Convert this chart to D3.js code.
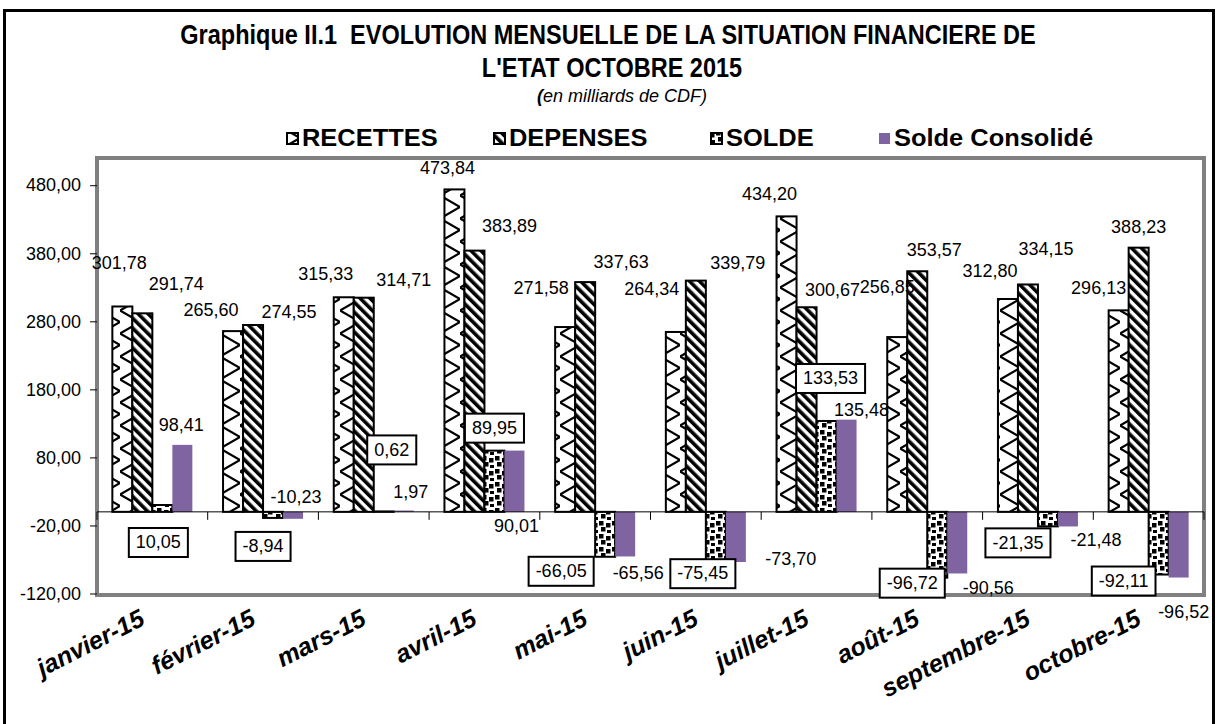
<!DOCTYPE html>
<html>
<head>
<meta charset="utf-8">
<script src="https://cdn.jsdelivr.net/npm/d3@7/dist/d3.min.js"></script>
<style>
  body { margin: 0; background: #fff; }
  svg { display: block; }
  text { font-family: "Liberation Sans", Arial, sans-serif; fill: #000; }
</style>
</head>
<body>
<svg id="chart" width="1219" height="724"></svg>
<script>
// data (milliards de CDF)
var months = ['janvier-15', 'février-15', 'mars-15', 'avril-15', 'mai-15',
              'juin-15', 'juillet-15', 'août-15', 'septembre-15', 'octobre-15'];
var seriesNames = ['RECETTES', 'DEPENSES', 'SOLDE', 'Solde Consolidé'];
var recettes  = [301.78, 265.60, 315.33, 473.84, 271.58, 264.34, 434.20, 256.85, 312.80, 296.13];
var depenses  = [291.74, 274.55, 314.71, 383.89, 337.63, 339.79, 300.67, 353.57, 334.15, 388.23];
var solde     = [10.05, -8.94, 0.62, 89.95, -66.05, -75.45, 133.53, -96.72, -21.35, -92.11];
var consolide = [98.41, -10.23, 1.97, 90.01, -65.56, -73.70, 135.48, -90.56, -21.48, -96.52];
var yTicks = [-120, -20, 80, 180, 280, 380, 480];

// where each data label was dragged to, as [dx, dy] from the end of its bar
var offRec = [[-3,-44],[-22,-21],[-18,-24],[-7,-22],[-24,-39],[-24,-43],[-17,-23],[-10,-50],[-18,-28],[-20,-23]];
var offDep = [[34,-30],[36,-13],[40,-18],[35,-25],[36,-20],[42,-18],[26,-18],[17,-22],[18,-36],[0,-21]];
var offSol = [[-4,37],[-10,28],[8,-62],[0,-23],[-44,14],[-13,10],[4,-43],[-25,5],[-30,16],[-35,6]];
var offCon = [[-1,-20],[3,-22],[7,-19],[2,75],[13,16],[55,-3],[15,-10],[31,14],[28,13],[5,34]];

var svg = d3.select('#chart');
var fr = d3.formatLocale({decimal: ',', thousands: ' ', grouping: [3], currency: ['', ''], minus: '-'});
var fmt = fr.format('.2f');

// patterns (excel style fills)
var defs = svg.append('defs');
var pRec = defs.append('pattern').attr('id', 'pRec').attr('patternUnits', 'userSpaceOnUse')
  .attr('width', 20).attr('height', 23);
pRec.append('rect').attr('width', 20).attr('height', 23).attr('fill', '#fff');
pRec.append('path').attr('d', 'M20,0 L0,11.5 L20,23').attr('fill', 'none')
  .attr('stroke', '#000').attr('stroke-width', 2.2);

var pDep = defs.append('pattern').attr('id', 'pDep').attr('patternUnits', 'userSpaceOnUse')
  .attr('width', 7).attr('height', 7).attr('patternTransform', 'rotate(-45)');
pDep.append('rect').attr('width', 7).attr('height', 7).attr('fill', '#fff');
pDep.append('rect').attr('width', 3.6).attr('height', 7).attr('fill', '#000');

var pSol = defs.append('pattern').attr('id', 'pSol').attr('patternUnits', 'userSpaceOnUse')
  .attr('width', 13).attr('height', 13);
pSol.append('rect').attr('width', 13).attr('height', 13).attr('fill', '#fff');
[[1,1],[8,3],[3,7],[9,10]].forEach(function(p){
  pSol.append('rect').attr('x', p[0]).attr('y', p[1]).attr('width', 4.5).attr('height', 4.5).attr('fill', '#000');
});

var fills = ['url(#pRec)', 'url(#pDep)', 'url(#pSol)', '#8064A2'];

// outer border
svg.append('rect').attr('x', 4.5).attr('y', 10.5).attr('width', 1209).attr('height', 730)
  .attr('fill', 'none').attr('stroke', '#000').attr('stroke-width', 3);

// titles
var title = svg.append('g');
title.append('text').attr('transform', 'translate(608,44) scale(0.84,1)').attr('text-anchor', 'middle')
  .style('font-size', '28px').style('font-weight', 'bold')
  .text('Graphique II.1\u00a0 EVOLUTION MENSUELLE DE LA SITUATION FINANCIERE DE');
title.append('text').attr('transform', 'translate(612,77) scale(0.84,1)').attr('text-anchor', 'middle')
  .style('font-size', '28px').style('font-weight', 'bold')
  .text("L'ETAT OCTOBRE 2015");
var sub = title.append('text').attr('x', 622).attr('y', 102).attr('text-anchor', 'middle')
  .style('font-size', '18px').style('font-style', 'italic');
sub.append('tspan').style('font-weight', 'bold').text('(');
sub.append('tspan').text('en milliards de CDF)');

// scales
var x = d3.scaleBand().domain(months).range([97, 1204]);
var x1 = d3.scaleBand().domain(seriesNames)
  .range([x.bandwidth() / 2 - 40, x.bandwidth() / 2 + 40]);
var y = d3.scaleLinear().domain([-120, 520]).range([593.5, 158]);

// plot frame
svg.append('rect').attr('x', 97).attr('y', 158).attr('width', 1107).attr('height', 437)
  .attr('fill', '#fff').attr('stroke', '#808080').attr('stroke-width', 4);

// y axis
var yAxis = svg.append('g').attr('transform', 'translate(97,0)')
  .call(d3.axisLeft(y).tickValues(yTicks).tickSize(7).tickPadding(9).tickFormat(fmt));
yAxis.select('.domain').remove();
yAxis.selectAll('text').style('font-size', '18px').style('font-family', '"Liberation Sans", Arial, sans-serif');

// bars
var allData = [recettes, depenses, solde, consolide];
var offsets = [offRec, offDep, offSol, offCon];
allData.forEach(function(vals, k) {
  svg.append('g').selectAll('rect').data(vals).enter().append('rect')
    .attr('x', function(d, i) { return x(months[i]) + x1(seriesNames[k]); })
    .attr('y', function(d) { return y(Math.max(0, d)); })
    .attr('width', x1.bandwidth())
    .attr('height', function(d) { return Math.abs(y(d) - y(0)); })
    .attr('fill', fills[k])
    .attr('stroke', k < 3 ? '#000' : 'none')
    .attr('stroke-width', 2);
});

// zero line + category ticks
var xAxis = svg.append('g').attr('transform', 'translate(0,' + y(0) + ')');
xAxis.append('line').attr('x1', 97).attr('x2', 1204).attr('stroke', '#000').attr('stroke-width', 1);
xAxis.selectAll('.tk').data(d3.range(months.length + 1)).enter().append('line')
  .attr('x1', function(i) { return 97 + i * x.step(); })
  .attr('x2', function(i) { return 97 + i * x.step(); })
  .attr('y1', 0).attr('y2', 8).attr('stroke', '#000');

// data labels
allData.forEach(function(vals, k) {
  var g = svg.append('g');
  vals.forEach(function(v, i) {
    var cx = x(months[i]) + x1(seriesNames[k]) + x1.bandwidth() / 2 + offsets[k][i][0];
    var cy = y(v) + offsets[k][i][1];
    var t = g.append('text').attr('x', cx).attr('y', cy).attr('dy', '0.35em')
      .attr('text-anchor', 'middle').style('font-size', '18px').text(fmt(v));
    if (k == 2) {
      var bb = t.node().getBBox();
      g.insert('rect', function() { return t.node(); })
        .attr('x', bb.x - 7).attr('y', cy - 14).attr('width', bb.width + 14).attr('height', 29)
        .attr('fill', '#fff').attr('stroke', '#000').attr('stroke-width', 2);
    }
  });
});

// category labels
svg.append('g').selectAll('text').data(months).enter().append('text')
  .attr('transform', function(d) { return 'translate(' + (x(d) + x.bandwidth() / 2 - 6) + ',624) rotate(-27)'; })
  .attr('text-anchor', 'end')
  .style('font-size', '25px').style('font-weight', 'bold').style('font-style', 'italic')
  .text(function(d) { return d; });

// legend
var legX = [287, 494, 711, 879];
var leg = svg.append('g');
seriesNames.forEach(function(n, k) {
  leg.append('rect').attr('x', legX[k]).attr('y', 133).attr('width', 11).attr('height', 11)
    .attr('fill', fills[k]).attr('stroke', k < 3 ? '#000' : 'none').attr('stroke-width', 2);
  leg.append('text').attr('transform', 'translate(' + (legX[k] + 15) + ',146) scale(1.06,1)')
    .style('font-size', '24px').style('font-weight', 'bold').text(n);
});
</script>
</body>
</html>
